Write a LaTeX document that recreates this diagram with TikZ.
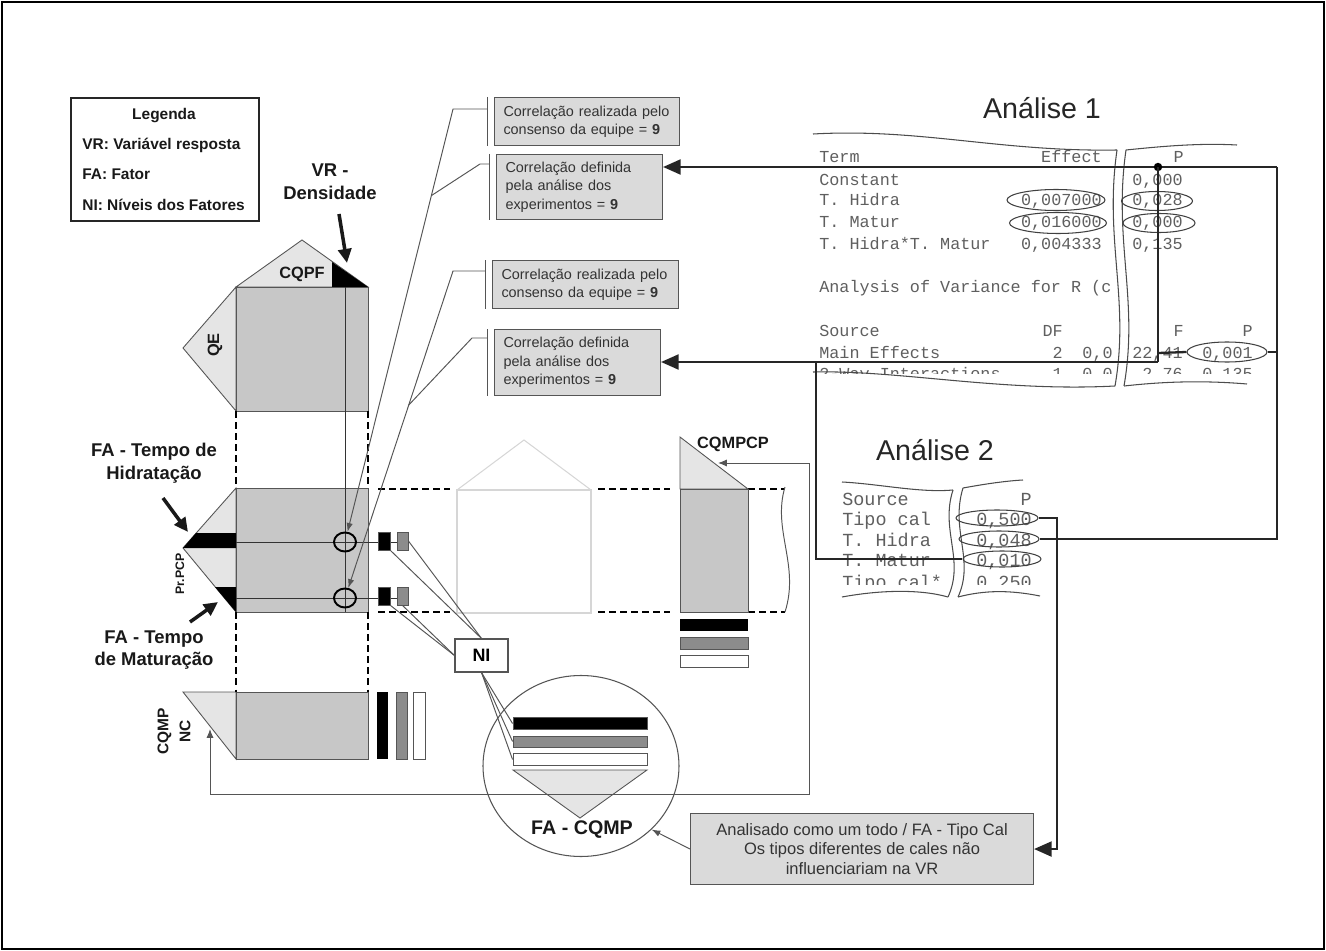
\documentclass[tikz,border=0pt]{standalone}
\usepackage{fontspec}
\setmainfont{Liberation Sans}
\setmonofont{Liberation Mono}
\usepackage{xcolor}
\definecolor{blockgray}{RGB}{199,199,199}
\definecolor{trigray}{RGB}{229,229,229}
\definecolor{boxgray}{RGB}{218,218,218}
\definecolor{levelgray}{RGB}{140,140,140}
\definecolor{edgegray}{RGB}{85,85,85}
\definecolor{printgray}{RGB}{95,95,95}
\definecolor{ghostgray}{RGB}{214,214,214}
\usepackage{tikz}
\usetikzlibrary{arrows.meta, positioning, shapes.geometric, calc}

\begin{document}
\begin{tikzpicture}[x=0.2mm, y=-0.2mm,
  block/.style={fill=blockgray, draw=edgegray, line width=0.5pt},
  wing/.style={fill=trigray, draw=edgegray, line width=0.5pt},
  cutline/.style={line width=1.1pt, dash pattern=on 3.8pt off 2.5pt},
  hairline/.style={draw=edgegray, line width=0.55pt},
  hairarrow/.style={hairline, -{Latex[length=5pt,width=3.6pt]}},
  wave/.style={draw=black!70, line width=0.6pt},
  boldline/.style={draw=black!85, line width=1.3pt},
  boldarrow/.style={boldline, -{Triangle[length=10pt,width=8.5pt]}},
  pointer/.style={draw=black!90, line width=2pt, -{Triangle[length=8pt,width=7.5pt]}},
  corrbox/.style={draw=edgegray, fill=boxgray, line width=0.6pt, anchor=north west,
    inner xsep=1.8mm, align=left, font=\fontsize{8.2}{10.4}\selectfont, text=black!80},
  tag/.style={font=\bfseries\fontsize{10.5}{13}\selectfont, text=black!90, align=center, inner sep=0},
  smalltag/.style={font=\bfseries\fontsize{9.3}{11}\selectfont, text=black!90, inner sep=0},
  legtxt/.style={font=\bfseries\fontsize{8.8}{10}\selectfont, text=black!90, inner sep=0},
  printout/.style={font=\ttfamily\fontsize{9.55}{11}\selectfont, text=printgray, inner sep=0},
  printoutB/.style={font=\ttfamily\fontsize{10.5}{12}\selectfont, text=printgray, inner sep=0},
  headline/.style={font=\fontsize{16.3}{19}\selectfont, text=black!85, inner sep=0},
  oval/.style={ellipse, draw=black!75, line width=0.6pt, inner sep=0},
  ring/.style={ellipse, draw=black, line width=1.1pt, inner sep=0, minimum width=4.4mm, minimum height=3.8mm},
  lvl/.style={draw=edgegray, line width=0.5pt, inner sep=0}]

  \useasboundingbox (0,0) rectangle (1326,951);
  \draw[line width=1.2pt] (2,2) rectangle (1324,949);

  % Legend
  \node[draw=black!85, line width=1pt, minimum width=37.6mm, minimum height=24.6mm,
        anchor=north west] (legend) at (70,97) {};
  \node[legtxt, anchor=base] (legTitle) at (164,120) {Legenda};
  \node[legtxt, anchor=base west] (legVR) at (82,150) {VR: Variável resposta};
  \node[legtxt, anchor=base west] (legFA) at (82,180) {FA: Fator};
  \node[legtxt, anchor=base west] (legNI) at (82,210) {NI: Níveis dos Fatores};

  % Upper block -- QE / CQPF
  \draw[wing] (236,287) -- (302,240) -- (368,287) -- cycle;
  \fill[black] (332,262) -- (368,287) -- (332,287) -- cycle;
  \draw[wing] (236,287) -- (183,348) -- (236,411) -- cycle;
  \draw[block] (236,287) rectangle (368,411);
  \node[smalltag] (cqpf) at (302,274) {CQPF};
  \node[smalltag, rotate=90] (qe) at (215,345) {QE};

  % Middle block -- Pr.PCP
  \draw[wing] (236,488) -- (183,548) -- (236,612) -- cycle;
  \fill[black] (196,533) -- (236,533) -- (236,548) -- (183,548) -- cycle;
  \fill[black] (215,587) -- (236,587) -- (236,612) -- cycle;
  \draw[block] (236,488) rectangle (368,612);
  \node[font=\bfseries\fontsize{7}{8}\selectfont, text=black!90, inner sep=0, rotate=90] (prpcp) at (180,574) {Pr.PCP};

  % Lower block -- CQMP NC
  \draw[wing] (183,692) -- (236,692) -- (236,759) -- cycle;
  \draw[block] (236,692) rectangle (368,759);
  \node[smalltag, rotate=90, align=center, font=\bfseries\fontsize{8.8}{12.5}\selectfont] (cqmpnc) at (174,731) {CQMP\\NC};
  \fill[black] (377,692) rectangle (388,759);
  \draw[lvl, fill=levelgray] (396,692) rectangle (407,759);
  \draw[lvl, fill=white] (413,692) rectangle (425,759);

  % Dashed projections
  \draw[cutline] (236,411) -- (236,488);
  \draw[cutline] (368,411) -- (368,488);
  \draw[cutline] (236,612) -- (236,692);
  \draw[cutline] (368,612) -- (368,692);
  \draw[cutline] (378,489) -- (450,489);
  \draw[cutline] (378,612) -- (450,612);
  \draw[cutline] (598,489) -- (670,489);
  \draw[cutline] (598,612) -- (670,612);
  \draw[cutline] (748,489) -- (785,489);
  \draw[cutline] (748,612) -- (785,612);

  % Faint house
  \draw[ghostgray, line width=0.6pt] (457,490) rectangle (591,613);
  \draw[ghostgray, line width=0.6pt] (457,490) -- (524,440) -- (591,490);

  % Right block -- CQMPCP
  \draw[wing] (680,437) -- (748,489) -- (680,489) -- cycle;
  \draw[block] (680,489) rectangle (748,612);
  \fill[black] (680,619) rectangle (748,631);
  \draw[lvl, fill=levelgray] (680,637) rectangle (748,649);
  \draw[lvl, fill=white] (680,655) rectangle (748,667);
  \draw[hairline] (785,487) .. controls (772,530) and (800,565) .. (785,612);
  \node[smalltag] (cqmpcp) at (733,444) {CQMPCP};

  % Cross lines and rings
  \draw[hairline, draw=black!80] (345,287) -- (345,612);
  \draw[hairline, draw=black!80] (236,542) -- (397,542);
  \draw[hairline, draw=black!80] (236,598) -- (397,598);
  \node[ring] (ring1) at (345,542) {};
  \node[ring] (ring2) at (345,598) {};
  \node[lvl, fill=black, minimum width=2.4mm, minimum height=3.6mm] (hb1) at (384,541) {};
  \node[lvl, fill=levelgray, minimum width=2.2mm, minimum height=3.6mm] (hg1) at (402.5,541) {};
  \node[lvl, fill=black, minimum width=2.4mm, minimum height=3.6mm] (hb2) at (384,596) {};
  \node[lvl, fill=levelgray, minimum width=2.2mm, minimum height=3.6mm] (hg2) at (402.5,596) {};

  % Labels with pointers
  \node[tag] (vrlab) at (330,182) {VR -\\Densidade};
  \node[tag] (hidlab) at (154,463) {FA - Tempo de\\Hidratação};
  \node[tag] (matlab) at (154,650) {FA - Tempo\\de Maturação};
  \coordinate (vrTail) at (339,214);
  \coordinate (vrTip) at (347,263);
  \coordinate (hidTail) at (163,498);
  \coordinate (hidTip) at (188,532);
  \coordinate (matTail) at (190,622);
  \coordinate (matTip) at (218,602);
  \draw[pointer] (vrTail) -- (vrTip);
  \draw[pointer] (hidTail) -- (hidTip);
  \draw[pointer] (matTail) -- (matTip);

  % Correlation boxes
  \node[corrbox, minimum width=37mm, minimum height=9.6mm, text width=33.4mm] (corr1) at (494,97)
       {Correlação realizada pelo\\consenso da equipe = \textbf{9}};
  \node[corrbox, minimum width=33.2mm, minimum height=13mm, text width=29.6mm] (corr2) at (496,154)
       {Correlação definida\\pela análise dos\\experimentos = \textbf{9}};
  \node[corrbox, minimum width=37.2mm, minimum height=9.6mm, text width=33.6mm] (corr3) at (492,260)
       {Correlação realizada pelo\\consenso da equipe = \textbf{9}};
  \node[corrbox, minimum width=33.2mm, minimum height=13.2mm, text width=29.6mm] (corr4) at (494,329)
       {Correlação definida\\pela análise dos\\experimentos = \textbf{9}};
  \draw[hairline] ([xshift=-1.4mm]corr1.north west) -- ([xshift=-1.4mm]corr1.south west);
  \draw[hairline] ([xshift=-1.4mm]corr2.north west) -- ([xshift=-1.4mm]corr2.south west);
  \draw[hairline] ([xshift=-1.4mm]corr3.north west) -- ([xshift=-1.4mm]corr3.south west);
  \draw[hairline] ([xshift=-1.4mm]corr4.north west) -- ([xshift=-1.4mm]corr4.south west);

  % Correlation leaders down to the rings
  \coordinate (b1) at (487,109);
  \coordinate (b2) at (489,164);
  \coordinate (b3) at (485,271);
  \coordinate (b4) at (487,338);
  \coordinate (k1) at (453,109);
  \coordinate (k2) at (480,164);
  \coordinate (k3) at (453,271);
  \coordinate (k4) at (472,338);
  \coordinate (j1) at ($(k1)!0.2!(ring1)$);
  \coordinate (j2) at ($(k3)!0.41!(ring2)$);
  \draw[hairarrow] (b1) -- (k1) -- (ring1);
  \draw[hairline] (b2) -- (k2) -- (j1);
  \draw[hairarrow] (b3) -- (k3) -- (ring2);
  \draw[hairline] (b4) -- (k4) -- (j2);

  % NI and the levels of CQMP
  \node[lvl, fill=white, draw=edgegray, line width=0.6pt, minimum width=10.6mm, minimum height=6.6mm,
        font=\bfseries\fontsize{10.2}{12}\selectfont] (ni) at (481.5,655.5) {NI};
  \draw[hairline] (hg1.east) -- (ni.north);
  \draw[hairline] (hb1.south east) -- (ni.north);
  \draw[hairline] (hb2.south east) -- (ni.west);
  \draw[hairline] (hg2.south) -- (ni.west);
  \node[ellipse, draw=edgegray, line width=0.6pt, minimum width=39.2mm, minimum height=36.2mm] (cqmpring) at (581,766) {};
  \node[lvl, fill=black, minimum width=26.8mm, minimum height=2.3mm] (barK) at (580,723.5) {};
  \node[lvl, fill=levelgray, minimum width=26.8mm, minimum height=2.2mm] (barG) at (580,741.5) {};
  \node[lvl, fill=white, minimum width=26.8mm, minimum height=2.3mm] (barW) at (580,759.5) {};
  \draw[wing] (513,770) -- (647,770) -- (580,818) -- cycle;
  \draw[hairline] (ni.south) -- (barK.west);
  \draw[hairline] (ni.south) -- (barG.west);
  \draw[hairline] (ni.south) -- (barW.west);
  \node[font=\bfseries\fontsize{11.2}{13}\selectfont, text=black!90, inner sep=0, anchor=base] (cqmplab) at (582,834) {FA - CQMP};

  % Feedback loop CQMPCP <-> CQMP NC
  \coordinate (cqmpcpTip) at (718,463);
  \coordinate (loopNE) at (809,463);
  \coordinate (loopSE) at (809,794);
  \coordinate (loopSW) at (210,794);
  \coordinate (cqmpncTip) at (210,729);
  \draw[hairline, {Latex[length=5pt,width=4pt]}-{Latex[length=5pt,width=4pt]}]
       (cqmpcpTip) -- (loopNE) -- (loopSE) -- (loopSW) -- (cqmpncTip);

  % Conclusion box
  \node[draw=edgegray, fill=boxgray, line width=0.6pt, anchor=north west, minimum width=68.6mm,
        minimum height=14.2mm, align=center, font=\fontsize{9.4}{11.3}\selectfont, text=black!80] (infobox) at (690,813)
       {Analisado como um todo / FA - Tipo Cal\\Os tipos diferentes de cales não\\influenciariam na VR};
  \draw[hairarrow] (infobox.west) -- (cqmpring.-42);

  % Analise 1 printout
  \node[headline, anchor=base] (ana1) at (1042,119) {Análise 1};
  \begin{scope}
    \clip (805,140) rectangle (1270,373);
    \node[printout, anchor=base west] (a1Term) at (819,163) {Term};
    \node[printout, anchor=base east] (a1Eff) at (1102,163) {Effect};
    \node[printout, anchor=base east] (a1P) at (1184,163) {P};
    \node[printout, anchor=base west] (a1Const) at (819,185) {Constant};
    \node[printout, anchor=base east] (a1ConstP) at (1183,185) {0,000};
    \node[printout, anchor=base west] (a1Hid) at (819,206) {T. Hidra};
    \node[printout, anchor=base east] (a1HidE) at (1102,206) {0,007000};
    \node[printout, anchor=base east] (a1HidP) at (1183,206) {0,028};
    \node[printout, anchor=base west] (a1Mat) at (819,228) {T. Matur};
    \node[printout, anchor=base east] (a1MatE) at (1102,228) {0,016000};
    \node[printout, anchor=base east] (a1MatP) at (1183,228) {0,000};
    \node[printout, anchor=base west] (a1Int) at (819,249) {T. Hidra*T. Matur};
    \node[printout, anchor=base east] (a1IntE) at (1102,249) {0,004333};
    \node[printout, anchor=base east] (a1IntP) at (1183,249) {0,135};
    \node[printout, anchor=base west] (a1Anova) at (819,292.7) {Analysis of Variance for R (c};
    \node[printout, anchor=base west] (a1Src) at (819,336.7) {Source};
    \node[printout, anchor=base east] (a1DF) at (1063,336.7) {DF};
    \node[printout, anchor=base east] (a1F) at (1184,336.7) {F};
    \node[printout, anchor=base east] (a1PP) at (1253,336.7) {P};
    \node[printout, anchor=base west] (a1Main) at (819,358) {Main Effects};
    \node[printout, anchor=base east] (a1MainDF) at (1063,358) {2};
    \node[printout, anchor=base east] (a1MainSS) at (1113,358) {0,0};
    \node[printout, anchor=base east] (a1MainF) at (1183,358) {22,41};
    \node[printout, anchor=base east] (a1MainP) at (1253,358) {0,001};
    \node[printout, anchor=base west] (a1Two) at (819,379) {2-Way Interactions};
    \node[printout, anchor=base east] (a1TwoDF) at (1063,379) {1};
    \node[printout, anchor=base east] (a1TwoSS) at (1113,379) {0,0};
    \node[printout, anchor=base east] (a1TwoF) at (1183,379) {2,76};
    \node[printout, anchor=base east] (a1TwoP) at (1253,379) {0,135};
  \end{scope}
  \fill[white] (1116,140) .. controls (1103,240) and (1129,300) .. (1114,390)
       -- (1124,390) .. controls (1139,300) and (1113,240) .. (1126,140) -- cycle;
  \draw[wave] (813,134) .. controls (920,128) and (1000,152) .. (1117,150);
  \draw[wave] (1126,150) .. controls (1165,146) and (1200,143) .. (1237,145);
  \draw[wave] (1117,150) .. controls (1104,240) and (1130,300) .. (1115,386);
  \draw[wave] (1126,150) .. controls (1113,240) and (1139,300) .. (1124,386);
  \draw[wave] (813,372) .. controls (900,370) and (1000,392) .. (1115,386);
  \draw[wave] (1124,386) .. controls (1160,382) and (1200,380) .. (1247,384);
  \node[oval, minimum width=19.6mm, minimum height=4.2mm] (pEffHid) at (1056,200) {};
  \node[oval, minimum width=19.4mm, minimum height=4.2mm] (pEffMat) at (1058,223) {};
  \node[oval, minimum width=14.2mm, minimum height=3.8mm] (pHid) at (1157,201) {};
  \node[oval, minimum width=14.4mm, minimum height=3.8mm] (pMat) at (1159,223) {};
  \node[oval, minimum width=16mm, minimum height=4mm] (pMain) at (1227,352) {};

  % Analise 2 printout
  \node[headline, anchor=base] (ana2) at (935,460) {Análise 2};
  \begin{scope}
    \clip (830,470) rectangle (1060,584);
    \node[printoutB, anchor=base west] (a2Src) at (842,505) {Source};
    \node[printoutB, anchor=base east] (a2P) at (1032,505) {P};
    \node[printoutB, anchor=base west] (a2Tipo) at (842,525) {Tipo cal};
    \node[printoutB, anchor=base east] (a2TipoP) at (1032,525) {0,500};
    \node[printoutB, anchor=base west] (a2Hid) at (842,546) {T. Hidra};
    \node[printoutB, anchor=base east] (a2HidP) at (1032,546) {0,048};
    \node[printoutB, anchor=base west] (a2Mat) at (842,566) {T. Matur};
    \node[printoutB, anchor=base east] (a2MatP) at (1032,566) {0,010};
    \node[printoutB, anchor=base west] (a2Int) at (842,588) {Tipo cal*};
    \node[printoutB, anchor=base east] (a2IntP) at (1032,588) {0,250};
  \end{scope}
  \draw[wave] (842,482) .. controls (880,484) and (920,493) .. (953,490);
  \draw[wave] (963,488) .. controls (985,484) and (1005,481) .. (1023,480);
  \draw[wave] (953,490) .. controls (940,530) and (965,560) .. (948,597);
  \draw[wave] (963,488) .. controls (950,530) and (975,560) .. (958,597);
  \draw[wave] (842,597) .. controls (880,590) and (920,589) .. (948,597);
  \draw[wave] (958,597) .. controls (985,590) and (1010,590) .. (1040,596);
  \node[oval, minimum width=16.4mm, minimum height=3.2mm] (pTipo2) at (997,518) {};
  \node[oval, minimum width=16mm, minimum height=3.2mm] (pHid2) at (999,539) {};
  \node[oval, minimum width=15.6mm, minimum height=3.2mm] (pMat2) at (1002,559) {};

  % Decision paths
  \coordinate (topRight) at (1277,167);
  \coordinate (dotP) at (1158,167);
  \coordinate (splitP) at (1158,353);
  \coordinate (elbowP) at (1158,362);
  \coordinate (elbowL) at (816,362);
  \coordinate (midRight) at (1277,352);
  \draw[boldarrow] (topRight) -- (topRight -| corr2.east);
  \draw[boldline] (topRight) -- (topRight |- pHid2.east) -- (pHid2.east);
  \fill[black] (dotP) circle (2.4pt);
  \draw[boldline] (dotP) -- (elbowP);
  \draw[boldline] (splitP) -- (pMain.west);
  \draw[boldline] (pMain.east) -- (midRight);
  \draw[boldarrow] (elbowP) -- (elbowP -| corr4.east);
  \draw[boldline] (elbowL) -- (elbowL |- pMat2.west) -- (pMat2.west);
  \draw[boldarrow] (pTipo2.east) -| ($(infobox.east)+(23,0)$) -- (infobox.east);
\end{tikzpicture}
\end{document}
